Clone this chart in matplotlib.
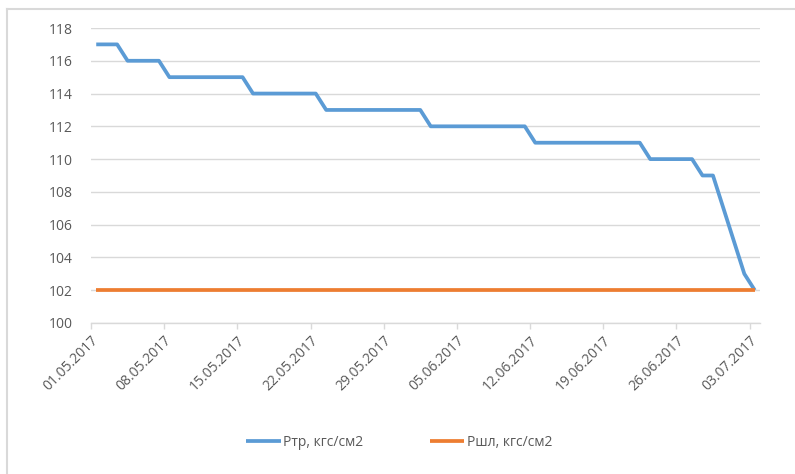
#!/usr/bin/env python3
"""Ртр / Ршл pressure trend, May-July 2017 (Excel-style line chart)."""

import matplotlib
matplotlib.use('Agg')
import matplotlib.pyplot as plt
import matplotlib.dates as mdates
from matplotlib.lines import Line2D
import pandas as pd

# daily values starting 01.05.2017
start_date = '2017-05-01'
p_tr = [117, 117, 117,
        116, 116, 116, 116,
        115, 115, 115, 115, 115, 115, 115, 115,
        114, 114, 114, 114, 114, 114, 114,
        113, 113, 113, 113, 113, 113, 113, 113, 113, 113,
        112, 112, 112, 112, 112, 112, 112, 112, 112, 112,
        111, 111, 111, 111, 111, 111, 111, 111, 111, 111, 111,
        110, 110, 110, 110, 110,
        109, 109,
        107, 105, 103, 102]
p_shl = [102] * len(p_tr)
series_names = ['Ртр, кгс/см2', 'Ршл, кгс/см2']
tick_dates = ['01.05.2017', '08.05.2017', '15.05.2017', '22.05.2017',
              '29.05.2017', '05.06.2017', '12.06.2017', '19.06.2017',
              '26.06.2017', '03.07.2017']
y_ticks = [100, 102, 104, 106, 108, 110, 112, 114, 116, 118]

BLUE = '#5B9BD5'
ORANGE = '#ED7D31'
GRID = '#D9D9D9'
TEXT = '#595959'
FS = 10

plt.rcParams['font.family'] = ['Open Sans', 'DejaVu Sans']

# Excel date axis: points sit in the middle of each day
days = pd.date_range(start_date, periods=len(p_tr), freq='D') + pd.Timedelta(hours=12)
ticks = pd.to_datetime(tick_dates, format='%d.%m.%Y')

fig = plt.figure(figsize=(7.95, 4.74), dpi=100)
ax = fig.add_axes([91 / 795, 1 - 323 / 474, 669 / 795, 295 / 474])

ax.plot(days, p_tr, color=BLUE, lw=2.7, solid_joinstyle='round',
        solid_capstyle='butt', label=series_names[0], zorder=3)
ax.plot(days, p_shl, color=ORANGE, lw=2.7, solid_capstyle='butt',
        label=series_names[1], zorder=3)

ax.set_xlim(pd.Timestamp(start_date), ticks[-1] + pd.Timedelta(days=1))
ax.set_ylim(100, 118)
ax.set_yticks(y_ticks)
ax.set_xticks(ticks)
ax.xaxis.set_major_formatter(mdates.DateFormatter('%d.%m.%Y'))

ax.grid(axis='y', color=GRID, lw=1)
ax.set_axisbelow(True)
for side in ['left', 'right', 'top']:
    ax.spines[side].set_visible(False)
ax.spines['bottom'].set_color(GRID)
ax.spines['bottom'].set_linewidth(1)

ax.tick_params(axis='y', length=0, pad=13, labelsize=FS, labelcolor=TEXT)
ax.tick_params(axis='x', length=4, width=1, color=GRID, pad=3,
               labelsize=FS, labelcolor=TEXT)
for lbl in ax.get_xticklabels():
    lbl.set_rotation(45)
    lbl.set_ha('right')
    lbl.set_va('top')
    lbl.set_rotation_mode('anchor')

fig.legend(loc='center', bbox_to_anchor=(399 / 795, 1 - 442 / 474), ncol=2,
           frameon=False, fontsize=FS, labelcolor=TEXT, handlelength=2.5,
           handletextpad=0.15, columnspacing=4.8)

# chart area border (only top and left edges are inside the crop)
fig.add_artist(Line2D([7 / 795, 1], [1 - 9 / 474, 1 - 9 / 474],
                      transform=fig.transFigure, color=GRID, lw=1.5))
fig.add_artist(Line2D([7 / 795, 7 / 795], [0, 1 - 9 / 474],
                      transform=fig.transFigure, color=GRID, lw=1.5))

fig.savefig('out.png', dpi=100)
